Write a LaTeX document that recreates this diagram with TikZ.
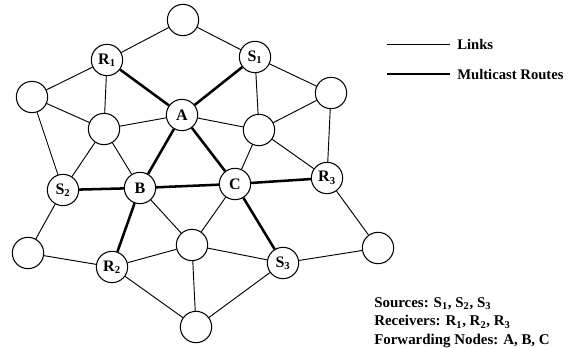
\documentclass[tikz,border=0pt]{standalone}
\usepackage{fontspec}
\setmainfont{Liberation Serif}
\usepackage{tikz}
\usetikzlibrary{backgrounds}

\tikzset{
  netnode/.style={draw,circle,fill=white,line width=0.8pt,minimum size=23.5pt,inner sep=0pt,font=\fontsize{12}{12}\selectfont\bfseries},
  link/.style={line width=0.7pt},
  route/.style={line width=1.9pt},
  legendtext/.style={anchor=west,inner sep=0.75pt,font=\fontsize{11}{13}\selectfont\bfseries}
}

\begin{document}
\begin{tikzpicture}[x=0.75pt,y=0.75pt,yscale=-1,xscale=1]
\path[use as bounding box] (0,0) rectangle (582,348);

%Nodes
\node [netnode] (top) at (183,20) {};
\node [netnode] (r1) at (107,60) {R\textsubscript{1}};
\node [netnode] (s1) at (255,57) {S\textsubscript{1}};
\node [netnode] (lu) at (32,97) {};
\node [netnode] (a) at (182,115) {A};
\node [netnode] (li) at (104,129) {};
\node [netnode] (ri) at (259,130) {};
\node [netnode] (ru) at (331,93) {};
\node [netnode] (s2) at (63,190) {S\textsubscript{2}};
\node [netnode] (b) at (140,188) {B};
\node [netnode] (c) at (235,184) {C};
\node [netnode] (r3) at (327,178) {R\textsubscript{3}};
\node [netnode] (ll) at (28,253) {};
\node [netnode] (r2) at (112,267) {R\textsubscript{2}};
\node [netnode] (cl) at (192,245) {};
\node [netnode] (s3) at (283,263) {S\textsubscript{3}};
\node [netnode] (rl) at (378,248) {};
\node [netnode] (bot) at (196,327) {};

%Links
\begin{scope}[on background layer]
\foreach \u/\v in {top/r1,top/s1,r1/lu,r1/li,s1/ri,s1/ru,lu/li,lu/s2,li/s2,li/a,li/b,a/ri,ru/ri,ru/r3,ri/r3,ri/c,s2/ll,ll/r2,b/cl,c/cl,r2/cl,cl/s3,cl/bot,r2/bot,s3/bot,s3/rl,r3/rl}
  \draw [link] (\u) -- (\v);
%Multicast routes
\foreach \u/\v in {r1/a,s1/a,a/b,a/c,s2/b,b/c,c/r3,b/r2,c/s3}
  \draw [route] (\u) -- (\v);
\end{scope}

%Legend
\coordinate (l1a) at (387,44);
\coordinate (l1b) at (450,44);
\coordinate (l2a) at (387,74);
\coordinate (l2b) at (450,74);
\draw [link] (l1a) -- (l1b);
\draw [route] (l2a) -- (l2b);
% Text Node
\node [legendtext] (links) at (456,44) {Links};
% Text Node
\node [legendtext] (mroutes) at (456,75) {Multicast Routes};
% Text Node
\node [legendtext,anchor=north west,align=left,font=\fontsize{11.2}{14}\selectfont\bfseries] (info) at (373,296) {Sources: S\textsubscript{1}, S\textsubscript{2}, S\textsubscript{3}\\Receivers: R\textsubscript{1}, R\textsubscript{2}, R\textsubscript{3}\\Forwarding Nodes: A, B, C};

\end{tikzpicture}
\end{document}
